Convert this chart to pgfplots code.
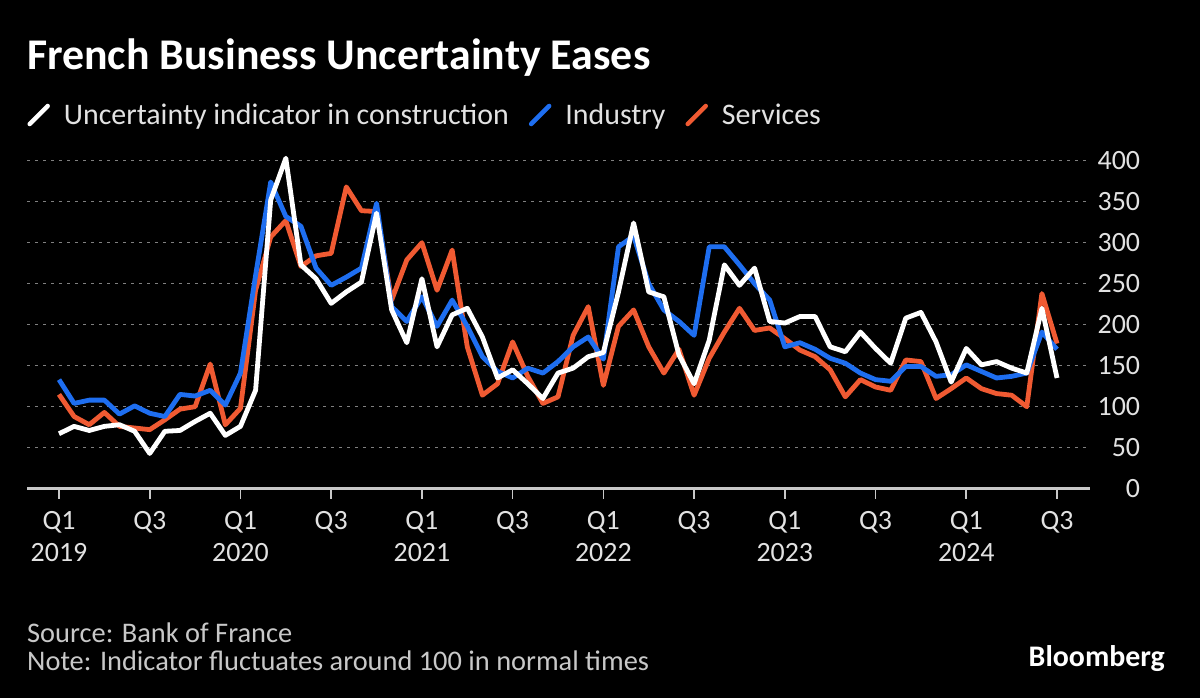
\documentclass[border=0pt]{standalone}
\usepackage{fontspec}
\setmainfont{Carlito}
\usepackage{pgfplots}
\usepackage{pgfplotstable}
\pgfplotsset{compat=1.18}
\definecolor{blueL}{HTML}{1E6EF0}
\definecolor{orangeL}{HTML}{F05A32}
\definecolor{gridc}{HTML}{808080}
\definecolor{txt}{HTML}{E2E2E2}
\definecolor{foot}{HTML}{C8C8C8}
\definecolor{basec}{HTML}{C8C8C8}

\pgfplotstableread{
x w b o
0 67 133 115
1 76 104 88
2 71 108 78
3 76 108 93
4 78 91 76
5 70 101 74
6 43 92 72
7 70 88 84
8 71 115 97
9 82 113 100
10 92 120 152
11 65 102 78
12 76 141 98
13 120 260 242
14 352 374 307
15 403 332 327
16 273 320 271
17 256 269 284
18 226 248 287
19 240 258 368
20 252 269 339
21 336 348 338
22 218 222 230
23 178 204 279
24 256 234 300
25 173 198 242
26 212 230 291
27 220 198 173
28 185 161 114
29 135 143 128
30 145 135 179
31 128 147 137
32 110 141 104
33 141 155 112
34 147 173 187
35 161 185 222
36 166 158 126
37 240 295 198
38 324 308 218
39 240 250 173
40 234 218 141
41 163 204 170
42 128 187 114
43 181 295 159
44 273 295 191
45 248 273 220
46 269 250 193
47 204 230 196
48 202 173 183
49 210 178 169
50 210 170 161
51 173 159 145
52 167 153 112
53 191 141 133
54 171 133 124
55 153 131 120
56 208 149 157
57 215 149 155
58 179 137 110
59 130 139 122
60 171 151 135
61 151 143 122
62 155 135 116
63 147 137 114
64 141 141 100
65 220 191 238
66 135 170 177
}\datatable

\begin{document}
\begin{tikzpicture}[x=1bp,y=1bp]
\fill[black] (0,0) rectangle (1200,698);
\node[anchor=base west, inner sep=0, text=white, font=\fontsize{44}{50}\selectfont\bfseries] at (27,628) {French Business Uncertainty Eases};
\node[anchor=base west, inner sep=0, text=foot, font=\fontsize{28.5}{32}\selectfont] at (27,55) {Source: Bank of France};
\node[anchor=base west, inner sep=0, text=foot, font=\fontsize{28.5}{32}\selectfont] at (27,27) {Note: Indicator fluctuates around 100 in normal times};
\node[anchor=base east, inner sep=0, text=white, font=\fontsize{30}{34}\selectfont\bfseries] at (1165,31) {Bloomberg};

\begin{axis}[
  at={(59bp,209.3bp)}, anchor=origin,
  scale only axis, width=1063bp, height=336.2bp,
  xmin=-2.1, xmax=68.2, ymin=0, ymax=410,
  clip=false,
  axis line style={draw=none},
  /pgf/number format/assume math mode=true,
  ytick={0,50,...,400},
  yticklabel pos=right,
  ymajorgrids,
  grid style={gridc, line width=1.6bp, dash pattern=on 2.5bp off 5.5bp},
  ytick style={draw=none},
  yticklabel style={anchor=east, xshift=50bp, inner sep=0pt, text=txt, font=\fontsize{28}{32}\selectfont},
  xtick={0,6,...,66},
  xticklabels={Q1\\2019,Q3,Q1\\2020,Q3,Q1\\2021,Q3,Q1\\2022,Q3,Q1\\2023,Q3,Q1\\2024,Q3},
  xtick pos=lower,
  major tick length=10bp,
  xtick style={draw=basec, line width=1.6bp, yshift=-10bp},
  xticklabel style={align=center, text=txt, font=\fontsize{28}{32}\selectfont, yshift=-19bp},
  legend columns=-1,
  legend style={at={(0,1.1115)}, anchor=west, draw=none, fill=none, text=txt,
    font=\fontsize{30}{36}\selectfont, inner sep=0pt,
    /tikz/every odd column/.append style={column sep=12bp},
    /tikz/every even column/.append style={column sep=18bp}},
  legend image code/.code={\draw[#1, line width=4.5bp, line cap=round] (2bp,-9bp) -- (20bp,9bp);},
]
\addlegendimage{white}
\addlegendentry{Uncertainty indicator in construction}
\addlegendimage{blueL}
\addlegendentry{Industry}
\addlegendimage{orangeL}
\addlegendentry{Services}
\draw[basec, line width=2.5bp] (rel axis cs:0,0) -- (rel axis cs:1,0);
\addplot[orangeL, line width=4.8bp, line join=round, forget plot] table[x=x, y=o] {\datatable};
\addplot[blueL, line width=4.8bp, line join=round, forget plot] table[x=x, y=b] {\datatable};
\addplot[white, line width=4.8bp, line join=round, forget plot] table[x=x, y=w] {\datatable};
\end{axis}
\pgfresetboundingbox
\path[use as bounding box] (0,0) rectangle (1200,698);
\end{tikzpicture}
\end{document}
